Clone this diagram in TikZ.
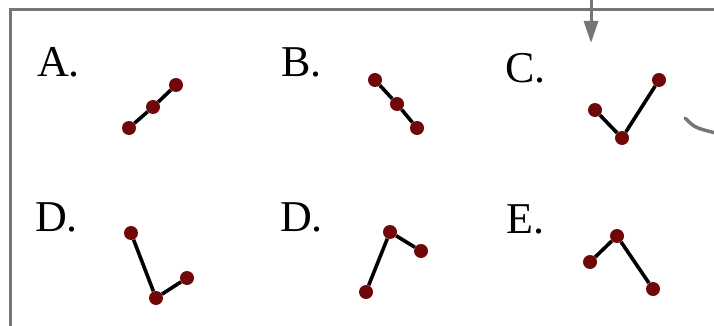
\documentclass[tikz,border=0pt]{standalone}
\usepackage{fontspec}
\setmainfont{Liberation Serif}
\usepackage{tikz}
\usetikzlibrary{arrows.meta}

\definecolor{atomred}{RGB}{112,8,10}
\definecolor{framegray}{RGB}{118,118,118}

\begin{document}
\begin{tikzpicture}[
  x=1pt, y=-1pt,
  atom/.style={circle, fill=atomred, inner sep=0pt, minimum size=14pt},
  bond/.style={line width=3.6pt, black},
  lbl/.style={font=\fontsize{44}{48}\selectfont, anchor=base west, inner sep=0pt},
  frame/.style={draw=framegray, line width=3.5pt},
  arr/.style={-{Triangle[length=22pt, width=14pt]}, draw=framegray, fill=framegray, line width=3pt}
]
  \useasboundingbox (0,0) rectangle (714,326);
  \clip (0,0) rectangle (714,326);

  % frame and the pieces that come from outside it
  \draw[frame] (10.5,340) -- (10.5,9.5) -- (730,9.5);
  \coordinate (src) at (591,-5);
  \coordinate (dst) at (591,43);
  \draw[arr] (src) -- (dst);
  \coordinate (cs) at (685,118);
  \coordinate (ce) at (720,134);
  \draw[framegray, line width=3.5pt, line cap=round] (cs) .. controls (695,128) .. (ce);

  % labels
  \node[lbl] (la) at (37,77) {A.};
  \node[lbl] (lb) at (281,77) {B.};
  \node[lbl] (lc) at (505,83) {C.};
  \node[lbl] (ld) at (35,231) {D.};
  \node[lbl] (le) at (280,231) {D.};
  \node[lbl] (lf) at (506,233) {E.};

  % A
  \node[atom] (a1) at (129,128) {};
  \node[atom] (a2) at (153,107) {};
  \node[atom] (a3) at (176,85) {};
  \draw[bond] (a1) -- (a2) -- (a3);

  % B
  \node[atom] (b1) at (375,80) {};
  \node[atom] (b2) at (397,104) {};
  \node[atom] (b3) at (417,128) {};
  \draw[bond] (b1) -- (b2) -- (b3);

  % C
  \node[atom] (c1) at (595,110) {};
  \node[atom] (c2) at (622,138) {};
  \node[atom] (c3) at (659,80) {};
  \draw[bond] (c1) -- (c2) -- (c3);

  % D (left)
  \node[atom] (d1) at (131,233) {};
  \node[atom] (d2) at (156,298) {};
  \node[atom] (d3) at (187,278) {};
  \draw[bond] (d1) -- (d2) -- (d3);

  % D (right)
  \node[atom] (e1) at (366,292) {};
  \node[atom] (e2) at (390,232) {};
  \node[atom] (e3) at (421,251) {};
  \draw[bond] (e1) -- (e2) -- (e3);

  % E
  \node[atom] (f1) at (590,262) {};
  \node[atom] (f2) at (617,236) {};
  \node[atom] (f3) at (653,289) {};
  \draw[bond] (f1) -- (f2) -- (f3);
\end{tikzpicture}
\end{document}
